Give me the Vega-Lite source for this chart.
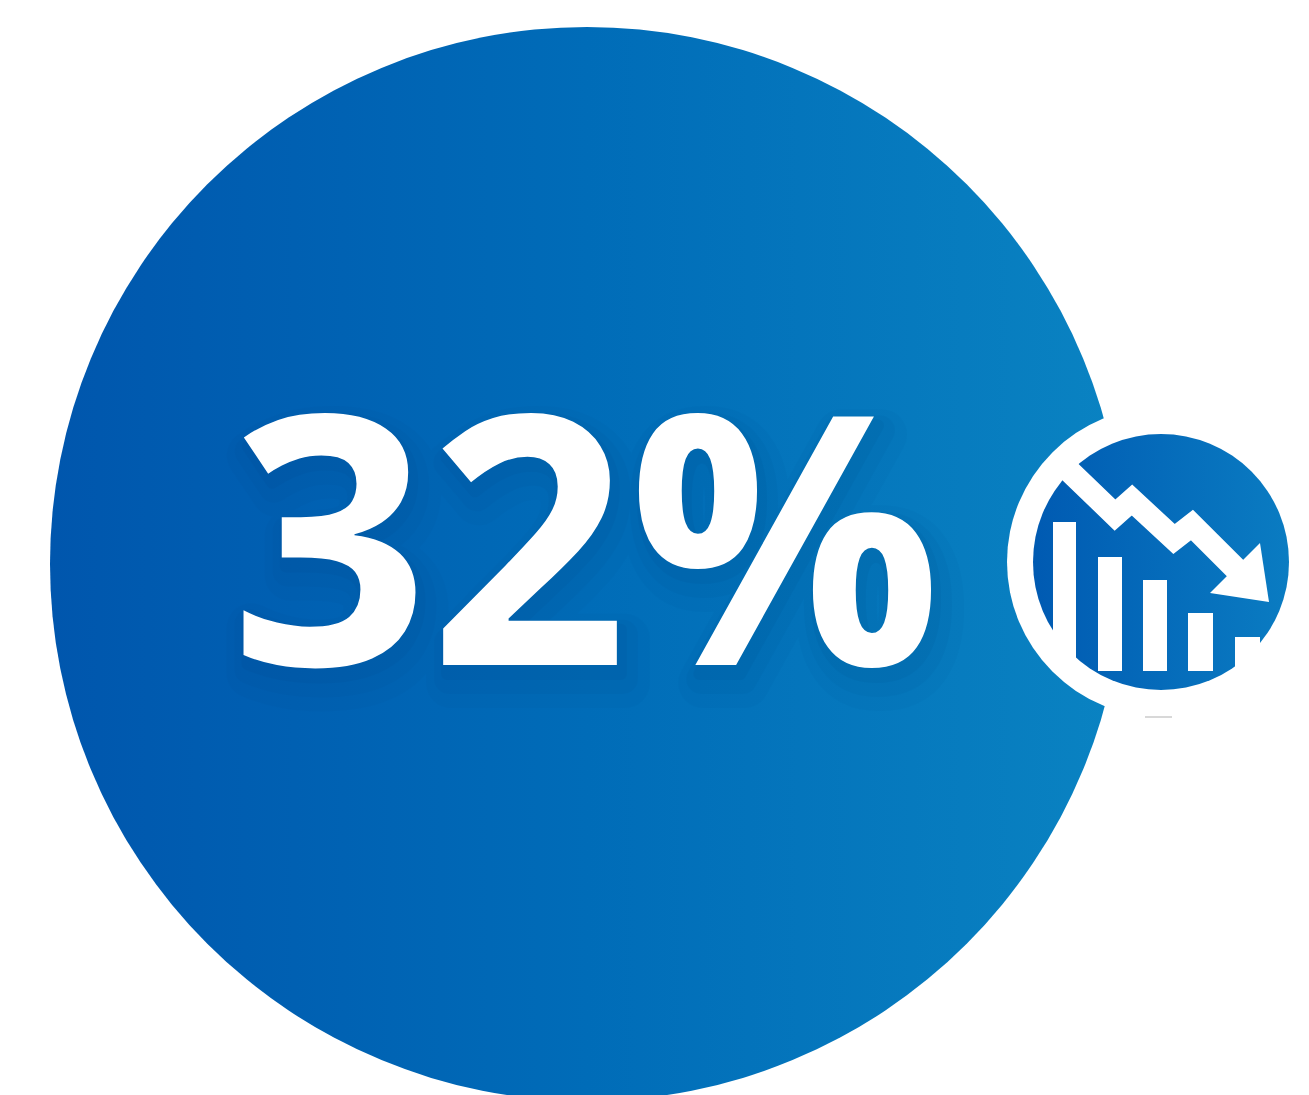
{"$schema":"https://vega.github.io/schema/vega-lite/v6.json","autosize":{"type":"none"},"width":1309,"height":1095,"padding":0,"background":"white","view":{"stroke":null},
"datasets":{"label":[{"cx":586,"cy":665,"label":"32%"}]},
"encoding":{"x":{"type":"quantitative","scale":{"domain":[0,1309]},"axis":null},"y":{"type":"quantitative","scale":{"domain":[1095,0]},"axis":null}},
"layer":[
{"data":{"values":[{"cx":587,"cy":564,"name":"main"}]},"mark":{"type":"point","filled":true,"size":1153476,"opacity":1,"clip":true,"fill":{"gradient":"linear","x1":0,"x2":1,"y1":0,"y2":0,"stops":[{"offset":0,"color":"#0056ad"},{"offset":0.5,"color":"#006cb8"},{"offset":1,"color":"#0a83c2"}]}},"encoding":{"x":{"field":"cx"},"y":{"field":"cy"}}},
{"data":{"name":"label"},"mark":{"type":"text","font":"Open Sans","fontWeight":700,"fontSize":348,"color":"#003f7d","stroke":"#003f7d","strokeWidth":50,"strokeJoin":"round","opacity":0.04,"dx":8,"dy":18,"baseline":"alphabetic","align":"center"},"encoding":{"x":{"field":"cx"},"y":{"field":"cy"},"text":{"field":"label"}}},
{"data":{"name":"label"},"mark":{"type":"text","font":"Open Sans","fontWeight":700,"fontSize":348,"color":"#003f7d","stroke":"#003f7d","strokeWidth":30,"strokeJoin":"round","opacity":0.05,"dx":6,"dy":14,"baseline":"alphabetic","align":"center"},"encoding":{"x":{"field":"cx"},"y":{"field":"cy"},"text":{"field":"label"}}},
{"data":{"name":"label"},"mark":{"type":"text","font":"Open Sans","fontWeight":700,"fontSize":348,"color":"#003f7d","stroke":"#003f7d","strokeWidth":12,"strokeJoin":"round","opacity":0.07,"dx":4,"dy":9,"baseline":"alphabetic","align":"center"},"encoding":{"x":{"field":"cx"},"y":{"field":"cy"},"text":{"field":"label"}}},
{"data":{"name":"label"},"mark":{"type":"text","font":"Open Sans","fontWeight":700,"fontSize":348,"color":"white","baseline":"alphabetic","align":"center"},"encoding":{"x":{"field":"cx"},"y":{"field":"cy"},"text":{"field":"label"}}},
{"data":{"values":[{"cx":1162,"cy":562}]},"mark":{"type":"point","filled":true,"size":96100,"opacity":1,"color":"white"},"encoding":{"x":{"field":"cx"},"y":{"field":"cy"}}},
{"data":{"values":[{"cx":1161,"cy":562}]},"mark":{"type":"point","filled":true,"size":65536,"opacity":1,"fill":{"gradient":"linear","x1":0,"x2":1,"y1":0,"y2":0,"stops":[{"offset":0,"color":"#005ab2"},{"offset":1,"color":"#0a7cc2"}]}},"encoding":{"x":{"field":"cx"},"y":{"field":"cy"}}},
{"data":{"values":[{"a":1053,"b":1076,"t":522,"e":668},{"a":1098,"b":1122,"t":557,"e":671},{"a":1143,"b":1167,"t":580,"e":671},{"a":1188,"b":1213,"t":613,"e":671},{"a":1235,"b":1260,"t":637,"e":700}]},"mark":{"type":"rect","color":"white"},"encoding":{"x":{"field":"a"},"x2":{"field":"b"},"y":{"field":"t"},"y2":{"field":"e"}}},
{"data":{"values":[{"a":1145,"b":1172,"t":716,"e":718}]},"mark":{"type":"rect","color":"#d8d8d8"},"encoding":{"x":{"field":"a"},"x2":{"field":"b"},"y":{"field":"t"},"y2":{"field":"e"}}},
{"data":{"values":[{"o":1,"px":1062,"py":464},{"o":2,"px":1115,"py":515},{"o":3,"px":1132,"py":500},{"o":4,"px":1174,"py":539},{"o":5,"px":1192,"py":525},{"o":6,"px":1240,"py":573}]},"mark":{"type":"line","color":"white","strokeWidth":23,"strokeJoin":"miter"},"encoding":{"x":{"field":"px"},"y":{"field":"py"},"order":{"field":"o"}}},
{"data":{"values":[{"px":1243,"py":585}]},"mark":{"type":"point","shape":"M0.34,-0.84L0.52,0.34L-0.66,0.16Z","filled":true,"size":10000,"opacity":1,"color":"white"},"encoding":{"x":{"field":"px"},"y":{"field":"py"}}}
]}
